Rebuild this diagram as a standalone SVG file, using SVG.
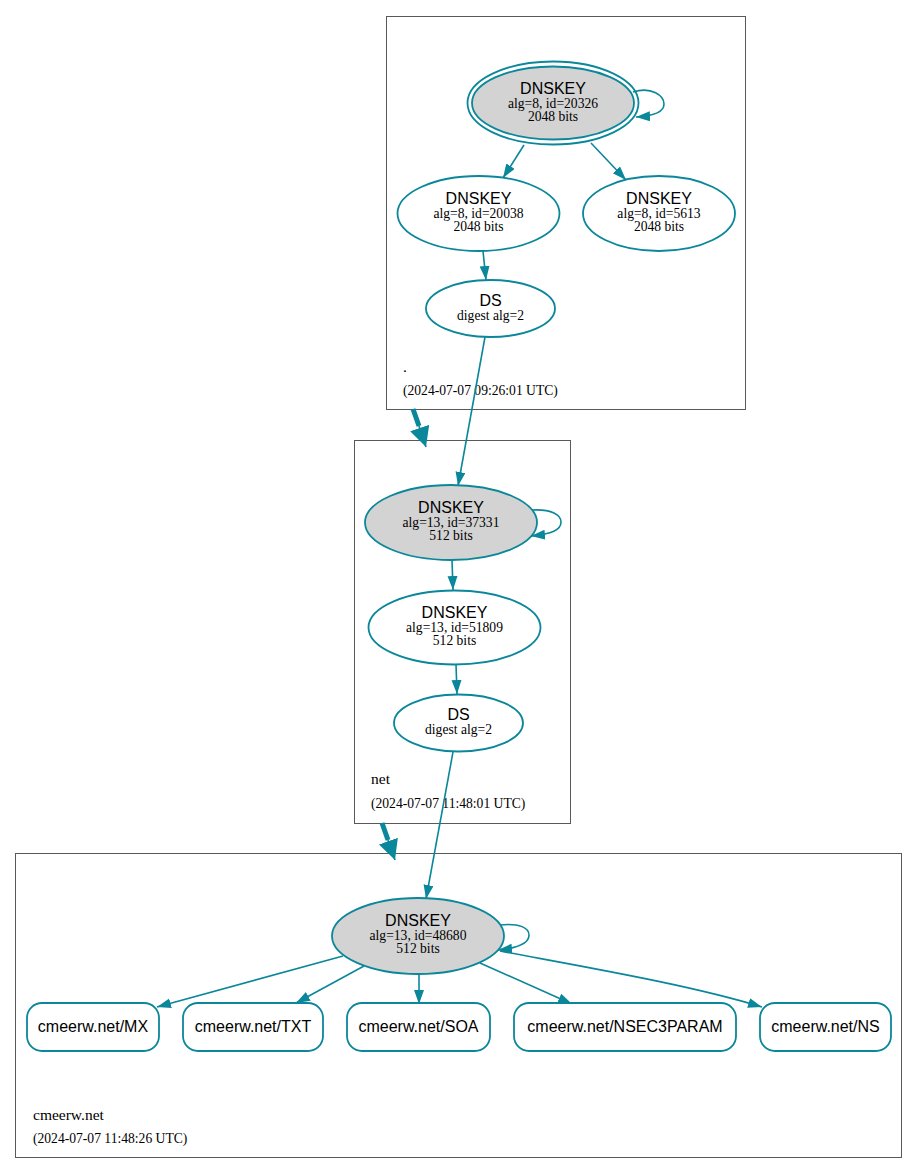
<svg xmlns="http://www.w3.org/2000/svg" width="917" height="1173" viewBox="0 0 917 1173">
<style>
.cl{fill:#ffffff;stroke:#595959;stroke-width:1}
.nd{fill:#ffffff;stroke:#0a879a;stroke-width:1.8}
.ks{fill:#d3d3d3;stroke:#0a879a;stroke-width:1.8}
.e{fill:none;stroke:#0a879a;stroke-width:1.6}
.t{fill:none;stroke:#0a879a;stroke-width:5}
.h{font-family:"Liberation Sans",Arial,sans-serif;font-size:16px;fill:#000;text-anchor:middle}
.s{font-family:"Liberation Serif","Times New Roman",serif;font-size:13.6px;fill:#000;text-anchor:middle}
.zn{font-family:"Liberation Serif","Times New Roman",serif;font-size:15.5px;fill:#000}
.zd{font-family:"Liberation Serif","Times New Roman",serif;font-size:13.6px;fill:#000}
</style>
<defs>
<marker id="a" markerUnits="userSpaceOnUse" markerWidth="15" markerHeight="11" refX="14" refY="5" orient="auto"><path d="M0,0 L14,5 L0,10 z" fill="#0a879a"/></marker>
<marker id="b" markerUnits="userSpaceOnUse" markerWidth="22" markerHeight="22" refX="20" refY="10" orient="auto"><path d="M0,0 L20,10 L0,20 z" fill="#0a879a"/></marker>
</defs>
<rect width="917" height="1173" fill="#ffffff"/>
<g id="cluster-root">
<rect class="cl" x="386.5" y="16.5" width="359" height="393"/>
<text class="zn" x="403" y="372">.</text>
<text class="zd" x="403" y="395">(2024-07-07 09:26:01 UTC)</text>
</g>
<g id="cluster-net">
<rect class="cl" x="354.5" y="440.5" width="216" height="383"/>
<text class="zn" x="371" y="784">net</text>
<text class="zd" x="371" y="808">(2024-07-07 11:48:01 UTC)</text>
</g>
<g id="cluster-cmeerw">
<rect class="cl" x="15.5" y="853.5" width="886" height="304"/>
<text class="zn" x="33" y="1120">cmeerw.net</text>
<text class="zd" x="33" y="1143">(2024-07-07 11:48:26 UTC)</text>
</g>
<g id="connectors">
<path class="e" d="M633,92 C652,86 664,96 664,104 C664,112 654,116 636,117" marker-end="url(#a)"/>
<path class="e" d="M524,145 L503,178" marker-end="url(#a)"/>
<path class="e" d="M591,143 L626,180" marker-end="url(#a)"/>
<path class="e" d="M483,251 L486,280" marker-end="url(#a)"/>
<path class="e" d="M485,337 L458,486" marker-end="url(#a)"/>
<path class="t" d="M413,409 L419,426"/>
<path class="e" d="M419,426 L426,447" stroke-width="0" marker-end="url(#b)"/>
<path class="e" d="M532,510 C552,509 561,515 561,522 C561,530 552,534 531,536" marker-end="url(#a)"/>
<path class="e" d="M452,560 L453,590" marker-end="url(#a)"/>
<path class="e" d="M456,664 L457,694" marker-end="url(#a)"/>
<path class="e" d="M453,752 L426,899" marker-end="url(#a)"/>
<path class="t" d="M382,823 L388,840"/>
<path class="e" d="M388,840 L395,860" stroke-width="0" marker-end="url(#b)"/>
<path class="e" d="M500,925 C520,923 529,928 529,935 C529,943 519,948 498,950" marker-end="url(#a)"/>
<path class="e" d="M343,956 L157,1007" marker-end="url(#a)"/>
<path class="e" d="M364,966 L296,1003" marker-end="url(#a)"/>
<path class="e" d="M419,974 L419,1004" marker-end="url(#a)"/>
<path class="e" d="M480,963 L572,1004" marker-end="url(#a)"/>
<path class="e" d="M500,951 C590,968 690,985 762,1007" marker-end="url(#a)"/>
</g>
<g id="dnskey-20326">
<ellipse cx="553" cy="103" rx="85.5" ry="41.5" fill="none" stroke="#0a879a" stroke-width="1.8"/>
<ellipse class="ks" cx="553" cy="103" rx="81" ry="36.5"/>
<text class="h" x="553" y="94">DNSKEY</text>
<text class="s" x="553" y="108">alg=8, id=20326</text>
<text class="s" x="553" y="121">2048 bits</text>
</g>
<g id="dnskey-20038">
<ellipse class="nd" cx="478.5" cy="213.5" rx="81" ry="37.5"/>
<text class="h" x="478.5" y="204">DNSKEY</text>
<text class="s" x="478.5" y="218">alg=8, id=20038</text>
<text class="s" x="478.5" y="231">2048 bits</text>
</g>
<g id="dnskey-5613">
<ellipse class="nd" cx="659" cy="213.5" rx="76" ry="37.5"/>
<text class="h" x="659" y="204">DNSKEY</text>
<text class="s" x="659" y="218">alg=8, id=5613</text>
<text class="s" x="659" y="231">2048 bits</text>
</g>
<g id="ds-root">
<ellipse class="nd" cx="490.5" cy="308.5" rx="64.5" ry="28.5"/>
<text class="h" x="490.5" y="306">DS</text>
<text class="s" x="490.5" y="320">digest alg=2</text>
</g>
<g id="dnskey-37331">
<ellipse class="ks" cx="451" cy="522.5" rx="86" ry="37.5"/>
<text class="h" x="451" y="513">DNSKEY</text>
<text class="s" x="451" y="527">alg=13, id=37331</text>
<text class="s" x="451" y="540">512 bits</text>
</g>
<g id="dnskey-51809">
<ellipse class="nd" cx="454.5" cy="627.5" rx="86" ry="37"/>
<text class="h" x="454.5" y="618">DNSKEY</text>
<text class="s" x="454.5" y="632">alg=13, id=51809</text>
<text class="s" x="454.5" y="645">512 bits</text>
</g>
<g id="ds-net">
<ellipse class="nd" cx="458.5" cy="723" rx="64.5" ry="28.5"/>
<text class="h" x="458.5" y="720">DS</text>
<text class="s" x="458.5" y="734">digest alg=2</text>
</g>
<g id="dnskey-48680">
<ellipse class="ks" cx="418" cy="936" rx="86" ry="38"/>
<text class="h" x="418" y="926">DNSKEY</text>
<text class="s" x="418" y="940">alg=13, id=48680</text>
<text class="s" x="418" y="953">512 bits</text>
</g>
<g id="rr-mx">
<rect class="nd" x="27" y="1003" width="132" height="48" rx="15"/>
<text class="h" x="93" y="1032">cmeerw.net/MX</text>
</g>
<g id="rr-txt">
<rect class="nd" x="183" y="1003" width="140" height="48" rx="15"/>
<text class="h" x="253" y="1032">cmeerw.net/TXT</text>
</g>
<g id="rr-soa">
<rect class="nd" x="347" y="1003" width="143" height="48" rx="15"/>
<text class="h" x="418.5" y="1032">cmeerw.net/SOA</text>
</g>
<g id="rr-nsec3param">
<rect class="nd" x="514" y="1003" width="222" height="48" rx="15"/>
<text class="h" x="625" y="1032">cmeerw.net/NSEC3PARAM</text>
</g>
<g id="rr-ns">
<rect class="nd" x="760" y="1003" width="131" height="48" rx="15"/>
<text class="h" x="825.5" y="1032">cmeerw.net/NS</text>
</g>
</svg>
